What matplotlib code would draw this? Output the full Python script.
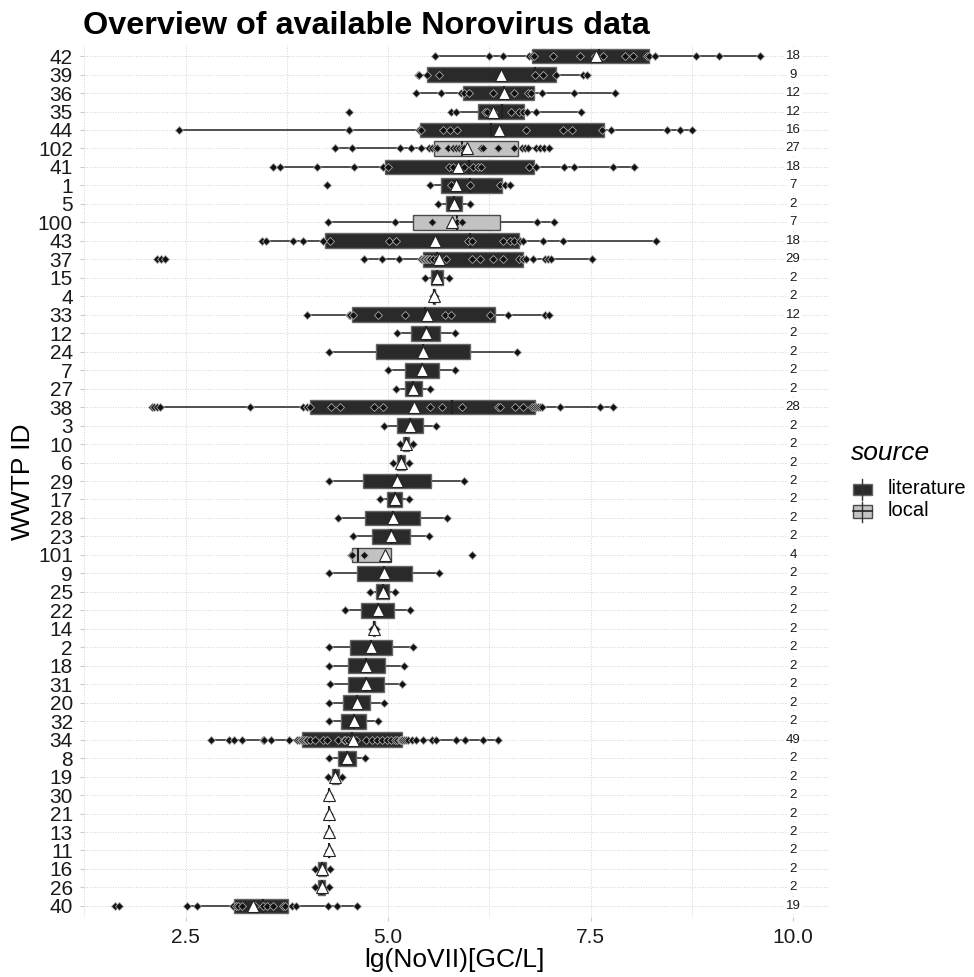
import matplotlib
matplotlib.use("Agg")
import numpy as np
from matplotlib import pyplot as plt
from matplotlib.patches import Rectangle
from matplotlib.lines import Line2D

plt.rcParams['font.family'] = ['Liberation Sans', 'DejaVu Sans']

# rows from top to bottom
wwtp_ids = ['42', '39', '36', '35', '44', '102', '41', '1', '5', '100',
            '43', '37', '15', '4', '33', '12', '24', '7', '27', '38',
            '3', '10', '6', '29', '17', '28', '23', '101', '9', '25',
            '22', '14', '2', '18', '31', '20', '32', '34', '8', '19',
            '30', '21', '13', '11', '16', '26', '40']
local_ids = ['102', '100', '101']
sources = ['local' if w in local_ids else 'literature' for w in wwtp_ids]

# lg(NoVII) values per WWTP, same order
values = [
    [5.58, 6.24, 6.42, 6.74, 6.77, 6.80, 7.04, 7.37, 7.55, 7.65, 7.92, 8.02, 8.20, 8.22, 8.29, 8.80, 9.09, 9.59],
    [5.37, 5.38, 5.48, 5.63, 6.81, 6.91, 7.07, 7.41, 7.45],
    [5.34, 5.65, 5.90, 5.93, 6.00, 6.30, 6.55, 6.72, 6.76, 6.90, 7.29, 7.80],
    [4.51, 5.78, 5.84, 6.20, 6.22, 6.30, 6.52, 6.61, 6.67, 6.71, 6.82, 7.38],
    [2.42, 4.52, 4.52, 5.38, 5.40, 5.68, 5.76, 5.85, 6.70, 7.16, 7.27, 7.64, 7.75, 8.44, 8.60, 8.75],
    [4.34, 4.55, 5.15, 5.28, 5.40, 5.50, 5.54, 5.58, 5.60, 5.74, 5.80, 5.84, 5.87, 5.91,
     5.93, 6.15, 6.17, 6.35, 6.36, 6.55, 6.65, 6.69, 6.72, 6.83, 6.87, 6.92, 6.99],
    [3.58, 3.66, 4.12, 4.58, 4.94, 5.00, 5.75, 5.80, 5.94, 6.05, 6.11, 6.15, 6.74, 6.82, 7.17, 7.29, 7.78, 8.03],
    [4.25, 5.52, 5.78, 6.01, 6.38, 6.44, 6.50],
    [5.62, 6.01],
    [4.26, 5.08, 5.54, 5.85, 5.91, 6.84, 7.05],
    [3.44, 3.49, 3.82, 3.95, 4.20, 4.28, 5.01, 5.10, 5.99, 6.03, 6.42, 6.50, 6.55, 6.63, 6.66, 6.91, 7.16, 8.31],
    [2.14, 2.19, 2.25, 4.70, 4.92, 5.13, 5.40, 5.43, 5.44, 5.47, 5.48, 5.50, 5.52, 5.55, 5.60,
     5.71, 6.03, 6.13, 6.29, 6.42, 6.61, 6.66, 6.67, 6.70, 6.79, 6.93, 6.97, 7.01, 7.52],
    [5.45, 5.75],
    [5.55, 5.58],
    [4.00, 4.51, 4.53, 4.56, 4.87, 5.21, 5.70, 5.77, 6.26, 6.48, 6.94, 6.98],
    [5.11, 5.82],
    [4.27, 6.59],
    [5.00, 5.83],
    [5.10, 5.52],
    [2.08, 2.11, 2.14, 2.18, 3.29, 3.95, 4.00, 4.04, 4.29, 4.40, 4.82, 4.94, 5.52, 5.67,
     5.91, 6.35, 6.38, 6.57, 6.67, 6.77, 6.80, 6.83, 6.85, 6.88, 6.90, 7.12, 7.62, 7.77],
    [4.95, 5.59],
    [5.14, 5.30],
    [5.06, 5.26],
    [4.27, 5.94],
    [4.90, 5.26],
    [4.38, 5.73],
    [4.56, 5.50],
    [4.54, 4.55, 4.70, 6.04],
    [4.27, 5.63],
    [4.78, 5.08],
    [4.47, 5.27],
    [4.80, 4.85],
    [4.27, 5.30],
    [4.27, 5.19],
    [4.28, 5.17],
    [4.27, 4.95],
    [4.27, 4.88],
    [2.81, 3.03, 3.09, 3.19, 3.46, 3.47, 3.55, 3.78, 3.87, 3.90, 3.92, 3.93, 3.94,
     3.96, 3.98, 4.00, 4.03, 4.10, 4.19, 4.25, 4.38, 4.45, 4.47, 4.50, 4.55, 4.60, 4.73,
     4.80, 4.86, 4.92, 4.99, 5.04, 5.08, 5.11, 5.14, 5.16, 5.17,
     5.20, 5.22, 5.25, 5.29, 5.34, 5.43, 5.54, 5.59, 5.84, 5.95, 6.17, 6.36],
    [4.27, 4.71],
    [4.26, 4.43],
    [4.27, 4.27],
    [4.27, 4.27],
    [4.27, 4.27],
    [4.27, 4.27],
    [4.09, 4.28],
    [4.09, 4.27],
    [1.63, 1.68, 2.51, 2.64, 3.08, 3.12, 3.15, 3.20, 3.36, 3.46, 3.50, 3.58, 3.70, 3.72,
     3.81, 3.86, 4.26, 4.37, 4.62],
]

fill = {'literature': '#2a2a2a', 'local': '#c2c2c2'}
edge = {'literature': '#666666', 'local': '#4a4a4a'}

W, H = 974, 977
fig = plt.figure(figsize=(W / 100, H / 100), dpi=100)
ax = fig.add_axes([84 / W, 1 - 917 / H, (828 - 84) / W, (917 - 45) / H])

n = len(wwtp_ids)
pos = np.arange(n)[::-1]

bp = ax.boxplot(values, positions=pos, orientation='horizontal', widths=0.8,
                patch_artist=True, showcaps=False, showfliers=False, showmeans=True,
                whis=1.5,
                whiskerprops=dict(color='#333333', linewidth=1.2),
                medianprops=dict(color='#222222', linewidth=1.5),
                meanprops=dict(marker='^', markerfacecolor='white', markeredgecolor='#222222',
                               markersize=9, markeredgewidth=0.8))
for patch, src in zip(bp['boxes'], sources):
    patch.set_facecolor(fill[src])
    patch.set_edgecolor(edge[src])
    patch.set_linewidth(1.0)
    patch.set_zorder(2)
for w in bp['whiskers']:
    w.set_zorder(1.9)
for m in bp['medians']:
    m.set_zorder(2.1)
for m in bp['means']:
    m.set_zorder(5)

for y, vals in zip(pos, values):
    ax.plot(vals, [y] * len(vals), ls='none', marker='D', ms=4.0,
            mfc='#111111', mec='#a8a8a8', mew=0.6, zorder=4)
    ax.text(10.0, y, str(len(vals)), ha='center', va='center', fontsize=9.5,
            color='#1a1a1a', zorder=3,
            bbox=dict(facecolor='white', edgecolor='none', pad=1.2))

ax.set_xlim(1.244, 10.43)
ax.set_ylim(-0.6, n - 0.4)
ax.set_xticks([2.5, 5.0, 7.5, 10.0])
ax.set_xticklabels(['2.5', '5.0', '7.5', '10.0'])
ax.set_xticks([1.25, 3.75, 6.25, 8.75], minor=True)
ax.set_yticks(pos)
ax.set_yticklabels(wwtp_ids)
ax.grid(axis='x', which='both', ls=':', color='#d2d2d2', lw=0.7)
ax.grid(axis='y', which='major', ls=':', color='#d2d2d2', lw=0.7)
ax.set_axisbelow(True)
for s in ax.spines.values():
    s.set_visible(False)
ax.tick_params(axis='both', which='major', length=3, color='#cccccc', pad=5,
               labelsize=15, labelcolor='#1a1a1a')
ax.tick_params(axis='x', which='minor', length=0)


def fx(px):
    return px / W


def fy(py):
    return 1 - py / H


fig.text(fx(83), fy(34), 'Overview of available Norovirus data', fontsize=23.3,
         fontweight='bold', ha='left', va='baseline')
fig.text(fx(454), fy(960), 'lg(NoVII)[GC/L]', fontsize=19, ha='center', va='center')
fig.text(fx(23), fy(482), 'WWTP ID', fontsize=19, rotation=90, ha='center', va='center')

# legend
fig.text(fx(851), fy(453), 'source', fontsize=19, style='italic', ha='left', va='center')
keys = [('literature', 479, 484, 495, 500, 489), ('local', 502, 505, 518, 522, 511)]
for src, t0, b0, b1, t1, yc in keys:
    fig.add_artist(Line2D([fx(862), fx(862)], [fy(t0), fy(t1)], color='#333333', lw=1.0))
    fig.add_artist(Rectangle((fx(853), fy(b1)), (872 - 853) / W, (b1 - b0) / H,
                             facecolor=fill[src], edgecolor=edge[src], lw=1.0))
    if src == 'local':
        fig.add_artist(Line2D([fx(853), fx(872)], [fy(yc), fy(yc)], color='#222222', lw=1.2))
    fig.text(fx(888), fy(yc), src, fontsize=14.5, ha='left', va='center')

fig.savefig('out.png', dpi=100)
